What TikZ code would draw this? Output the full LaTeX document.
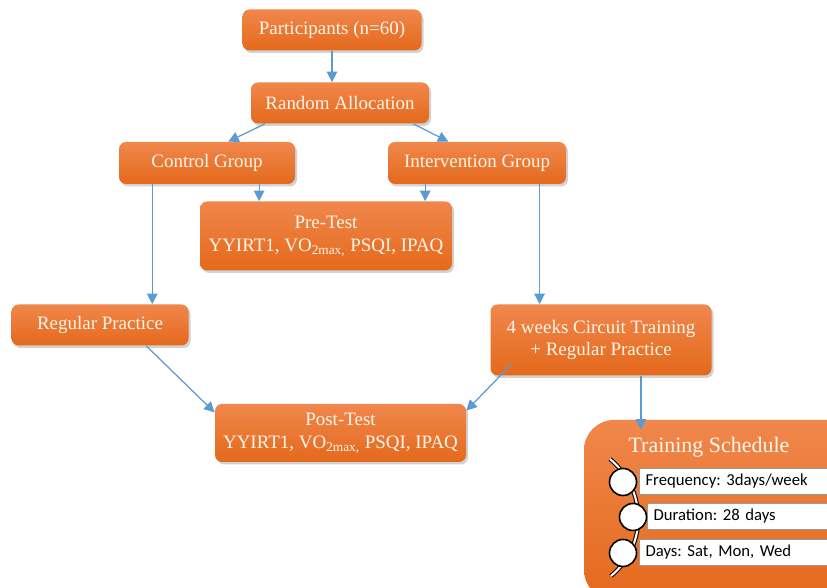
\documentclass[tikz,border=0pt]{standalone}
\usepackage{fontspec}
\setmainfont{Liberation Serif}
\newfontfamily\schedfont{Carlito}
\usepackage{tikz}
\usetikzlibrary{calc}
\usetikzlibrary{arrows.meta}
\usetikzlibrary{shadows}
\usetikzlibrary{positioning}
\frenchspacing

\definecolor{boxtop}{HTML}{F0874C}
\definecolor{boxbot}{HTML}{E4691C}
\definecolor{boxtext}{HTML}{FFF6EA}
\definecolor{arrblue}{HTML}{5B9BD5}

\tikzset{
  flowbox/.style={rectangle, rounded corners=4pt, top color=boxtop, bottom color=boxbot, draw=none,
    text=boxtext, align=center, font=\fontsize{10.8}{13}\selectfont,
    drop shadow={opacity=0.35, shadow xshift=0.04cm, shadow yshift=-0.05cm}},
  flowarr/.style={draw=arrblue, line width=0.7pt, -{Triangle[length=6pt, width=6pt]}},
  schedbar/.style={rectangle, fill=white, draw=black!40, line width=0.3pt, minimum height=0.44cm, anchor=west,
    text width=4cm, align=left, font=\schedfont\fontsize{9.5}{11}\selectfont, inner xsep=3pt},
  schedcirc/.style={circle, fill=white, draw=black, line width=0.9pt, minimum size=0.54cm, inner sep=0pt}
}

\begin{document}
\begin{tikzpicture}

\fill[white] (0,0) rectangle (16.54,11.76);
\useasboundingbox (0,0) rectangle (16.54,11.76);
\clip (0,0) rectangle (16.54,11.76);

\node at (6.64,11.16) [flowbox, minimum width=3.58cm, minimum height=0.82cm] (part) {Participants (n=60)};
\node at (6.80,9.70) [flowbox, minimum width=3.56cm, minimum height=0.82cm] (rand) {Random Allocation};
\node at (4.14,8.50) [flowbox, minimum width=3.52cm, minimum height=0.84cm] (ctrl) {Control Group};
\node at (9.54,8.50) [flowbox, minimum width=3.56cm, minimum height=0.84cm] (intv) {Intervention Group};
\node at (6.52,7.04) [flowbox, minimum width=5.04cm, minimum height=1.38cm] (pre) {Pre-Test\\YYIRT1, VO\textsubscript{2max,} PSQI, IPAQ};
\node at (2.00,5.26) [flowbox, minimum width=3.54cm, minimum height=0.82cm] (reg) {Regular Practice};
\node at (12.02,4.96) [flowbox, minimum width=4.42cm, minimum height=1.42cm] (circ) {4 weeks Circuit Training\\+ Regular Practice};
\node at (6.81,3.10) [flowbox, minimum width=5.02cm, minimum height=1.16cm] (post) {Post-Test\\YYIRT1, VO\textsubscript{2max,} PSQI, IPAQ};

% training schedule
\node at (14.44,1.56) [flowbox, rounded corners=0.6cm, minimum width=5.52cm, minimum height=3.6cm] (sched) {};
\node at (14.18,2.82) [text=boxtext, font=\fontsize{12.5}{14}\selectfont] (schedtitle) {Training Schedule};
\node at (12.78,2.14) [schedbar, text width=4.1cm] (freq) {\hspace{0.02cm}Frequency: 3days/week};
\node at (12.94,1.43) [schedbar, text width=3.9cm] (dur) {\hspace{0.02cm}Duration: 28 days};
\node at (12.78,0.72) [schedbar, text width=4.1cm] (days) {\hspace{0.02cm}Days: Sat, Mon, Wed};
\draw[draw=black, double=white, double distance=1.2pt, line width=0.6pt] (12.20,2.58) .. controls (12.95,1.95) and (12.95,0.85) .. (12.22,0.24);
\node at (12.46,2.12) [schedcirc] (c1) {};
\node at (12.66,1.42) [schedcirc] (c2) {};
\node at (12.46,0.70) [schedcirc] (c3) {};

% connectors
\draw[flowarr] (part.south) -- (part.south |- rand.north);
\draw[flowarr] ($(rand.south west)!0.08!(rand.south east)$) -- ($(ctrl.north west)!0.62!(ctrl.north east)$);
\draw[flowarr] ($(rand.south west)!0.91!(rand.south east)$) -- ($(intv.north west)!0.34!(intv.north east)$);
\draw[flowarr] ($(ctrl.south west)!0.795!(ctrl.south east)$) coordinate (a1) -- (a1 |- pre.north);
\draw[flowarr] ($(intv.south west)!0.21!(intv.south east)$) coordinate (a2) -- (a2 |- pre.north);
\draw[flowarr] ($(ctrl.south west)!0.19!(ctrl.south east)$) coordinate (a3) -- (a3 |- reg.north);
\draw[flowarr] ($(intv.south west)!0.85!(intv.south east)$) coordinate (a4) -- (a4 |- circ.north);
\draw[flowarr] ($(reg.south west)!0.76!(reg.south east)$) -- ($(post.north west)!0.15!(post.south west)$);
\draw[flowarr] ($(circ.south west)!0.1!(circ.south east)+(0,0.25)$) -- ($(post.north east)!0.12!(post.south east)$);
\draw[flowarr] ($(circ.south west)!0.68!(circ.south east)$) coordinate (a5) -- ($(a5 |- sched.north)+(0,-0.2)$);

\end{tikzpicture}
\end{document}
